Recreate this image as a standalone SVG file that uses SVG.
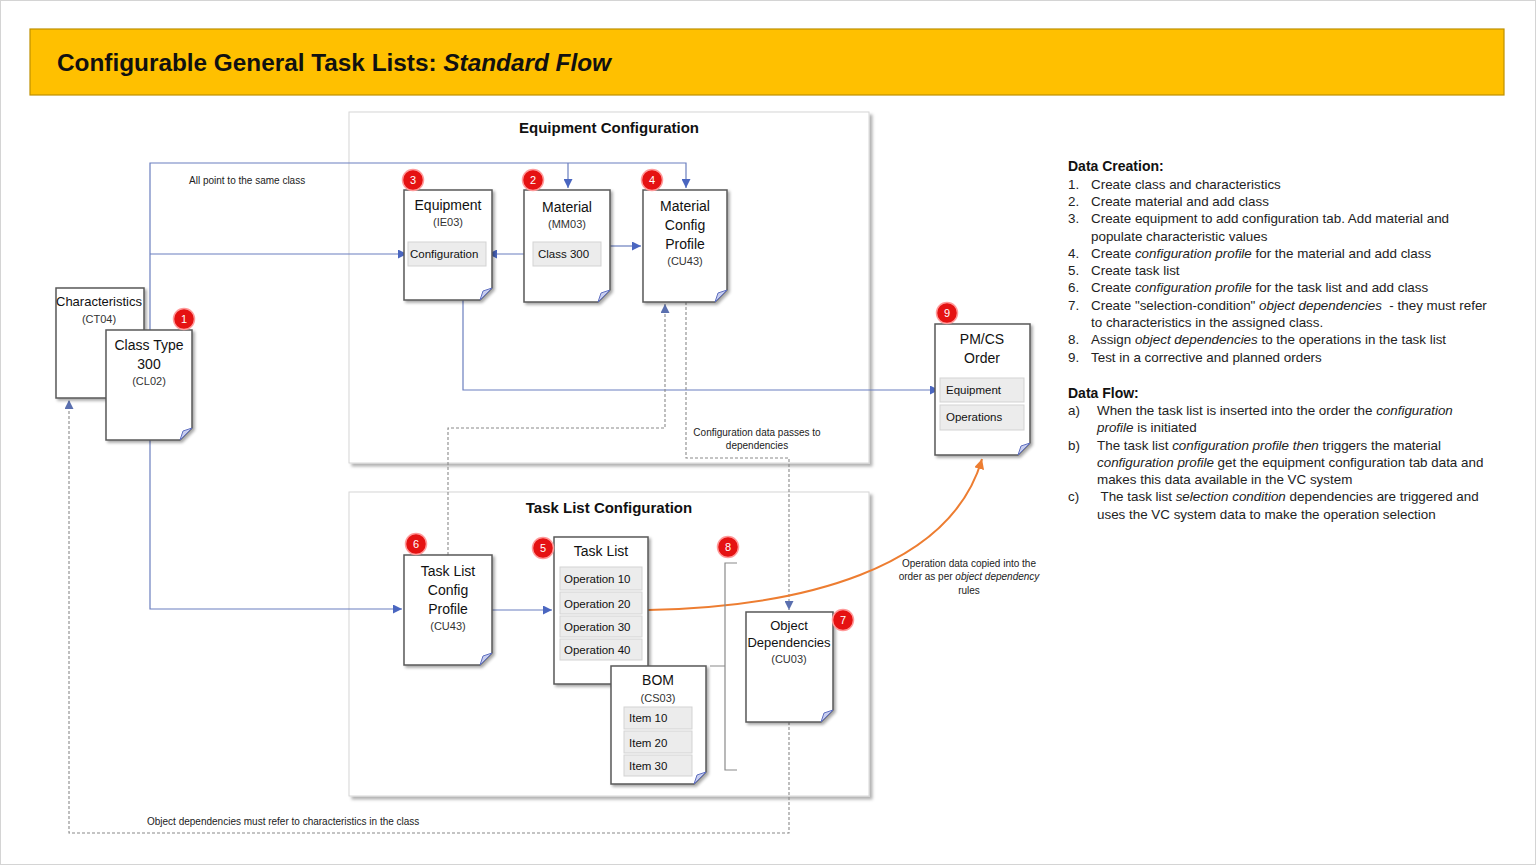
<svg xmlns="http://www.w3.org/2000/svg" width="1536" height="865" viewBox="0 0 1536 865">
<defs>
<filter id="sh" x="-20%" y="-20%" width="140%" height="140%"><feDropShadow dx="2" dy="2" stdDeviation="1.5" flood-color="#000" flood-opacity="0.35"/></filter>
<filter id="psh" x="-5%" y="-5%" width="110%" height="110%"><feDropShadow dx="3" dy="3" stdDeviation="1.5" flood-color="#000" flood-opacity="0.3"/></filter>
<marker id="ab" viewBox="0 0 10 10" refX="10" refY="5" markerWidth="9" markerHeight="9" orient="auto" markerUnits="userSpaceOnUse"><path d="M0,0 L10,5 L0,10 Z" fill="#4A66C0"/></marker>
<marker id="ag" viewBox="0 0 10 10" refX="10" refY="5" markerWidth="9" markerHeight="9" orient="auto" markerUnits="userSpaceOnUse"><path d="M0,0 L10,5 L0,10 Z" fill="#5A6FAF"/></marker>
<marker id="ao" viewBox="0 0 10 10" refX="10" refY="5" markerWidth="10" markerHeight="10" orient="auto" markerUnits="userSpaceOnUse"><path d="M0,0 L10,5 L0,10 Z" fill="#ED7D31"/></marker>
</defs>
<style>
text{font-family:"Liberation Sans",Arial,sans-serif;fill:#111}
.doc{fill:#fff;stroke:#5a5a5a;stroke-width:1.5;filter:url(#sh)}
.fold{fill:#c8ceef;stroke:#5f6fc0;stroke-width:1}
.panel{fill:#fff;stroke:#d6d6d6;stroke-width:1;filter:url(#psh)}
.ptitle{font-size:15px;font-weight:bold;text-anchor:middle}
.lbl{font-size:14px;text-anchor:middle}
.lbl13{font-size:13px;text-anchor:middle}
.code{font-size:11px;text-anchor:middle;fill:#333}
.row{fill:#ececec;stroke:#d3d3d3;stroke-width:1}
.rt{font-size:11.5px}
.badge{fill:#e51212;stroke:#ff9a9a;stroke-width:1.5}
.bt{font-size:11px;fill:#fff;text-anchor:middle}
.ln{fill:none;stroke:#6b7fbf;stroke-width:1.2}
.dash{fill:none;stroke:#8a8a8a;stroke-width:1.1;stroke-dasharray:3,2}
.cl{font-size:10px;fill:#222}
.body{font-size:13.4px;fill:#222}
.hd{font-size:14px;font-weight:bold}
</style>
<rect x="0.5" y="0.5" width="1535" height="864" fill="#fff" stroke="#d4d4d4"/>
<g id="title">
<rect x="30" y="29" width="1474" height="66" fill="#FFC000" stroke="#BF9000" stroke-width="1.2"/>
<text x="57" y="71" font-size="23" font-weight="bold" textLength="554" lengthAdjust="spacingAndGlyphs">Configurable General Task Lists: <tspan font-style="italic">Standard Flow</tspan></text>
</g>
<g id="panel-equipment">
<rect class="panel" x="349" y="112" width="520" height="351"/>
<text class="ptitle" x="609" y="133">Equipment Configuration</text>
</g>
<g id="panel-tasklist">
<rect class="panel" x="349" y="492" width="520" height="304"/>
<text class="ptitle" x="609" y="513">Task List Configuration</text>
</g>
<g id="connectors">
<path class="ln" d="M150,330 V163 H686 V188" marker-end="url(#ab)"/>
<path class="ln" d="M568,163 V188" marker-end="url(#ab)"/>
<path class="ln" d="M150,254 H407" marker-end="url(#ab)"/>
<path class="ln" d="M533,254 H488" marker-end="url(#ab)"/>
<path class="ln" d="M610,246 H641" marker-end="url(#ab)"/>
<path class="ln" d="M463,300 V390 H939" marker-end="url(#ab)"/>
<path class="ln" d="M150,440 V609 H402" marker-end="url(#ab)"/>
<path class="ln" d="M492,610 H552" marker-end="url(#ab)"/>
<path class="dash" d="M448,555 V428 H665 V304" marker-end="url(#ag)"/>
<path class="dash" d="M686,302 V458 H789 V610" marker-end="url(#ag)"/>
<path class="dash" d="M789,722 V833 H69 V400" marker-end="url(#ag)"/>
<path d="M648,610 C800,607 950,570 982,459" fill="none" stroke="#ED7D31" stroke-width="2" marker-end="url(#ao)"/>
<text class="cl" x="189" y="184">All point to the same class</text>
<text class="cl" x="757" y="436" text-anchor="middle">Configuration data passes to</text>
<text class="cl" x="757" y="449" text-anchor="middle">dependencies</text>
<text class="cl" x="969" y="567" text-anchor="middle">Operation data copied into the</text>
<text class="cl" x="969" y="580" text-anchor="middle">order as per <tspan font-style="italic">object dependency</tspan></text>
<text class="cl" x="969" y="594" text-anchor="middle">rules</text>
<text class="cl" x="147" y="825">Object dependencies must refer to characteristics in the class</text>
</g>
<g id="node-characteristics">
<path class="doc" d="M56,288 H144 V386 L132,398 H56 Z"/>
<text class="lbl13" x="99" y="306" textLength="86" lengthAdjust="spacingAndGlyphs">Characteristics</text>
<text class="code" x="99" y="323">(CT04)</text>
</g>
<g id="node-classtype">
<path class="doc" d="M106,330 H192 V428 L180,440 H106 Z"/>
<path class="fold" d="M180,440 L183,431 L192,428 Z"/>
<text class="lbl" x="149" y="350">Class Type</text>
<text class="lbl" x="149" y="369">300</text>
<text class="code" x="149" y="385">(CL02)</text>
<circle class="badge" cx="184" cy="319" r="10.5"/><text class="bt" x="184" y="323">1</text>
</g>
<g id="node-equipment">
<path class="doc" d="M404,190 H492 V288 L480,300 H404 Z"/>
<path class="fold" d="M480,300 L483,291 L492,288 Z"/>
<text class="lbl" x="448" y="210">Equipment</text>
<text class="code" x="448" y="226">(IE03)</text>
<rect class="row" x="408" y="242" width="78" height="24"/>
<text class="rt" x="410" y="258">Configuration</text>
<circle class="badge" cx="413" cy="180" r="10.5"/><text class="bt" x="413" y="184">3</text>
</g>
<g id="node-material">
<path class="doc" d="M524,190 H610 V290 L598,302 H524 Z"/>
<path class="fold" d="M598,302 L601,293 L610,290 Z"/>
<text class="lbl" x="567" y="212">Material</text>
<text class="code" x="567" y="228">(MM03)</text>
<rect class="row" x="533" y="242" width="68" height="24"/>
<text class="rt" x="538" y="258">Class 300</text>
<circle class="badge" cx="533" cy="180" r="10.5"/><text class="bt" x="533" y="184">2</text>
</g>
<g id="node-matconfig">
<path class="doc" d="M643,190 H727 V290 L715,302 H643 Z"/>
<path class="fold" d="M715,302 L718,293 L727,290 Z"/>
<text class="lbl" x="685" y="211">Material</text>
<text class="lbl" x="685" y="230">Config</text>
<text class="lbl" x="685" y="249">Profile</text>
<text class="code" x="685" y="265">(CU43)</text>
<circle class="badge" cx="652" cy="180" r="10.5"/><text class="bt" x="652" y="184">4</text>
</g>
<g id="node-order">
<path class="doc" d="M935,324 H1030 V443 L1018,455 H935 Z"/>
<path class="fold" d="M1018,455 L1021,446 L1030,443 Z"/>
<text class="lbl" x="982" y="344">PM/CS</text>
<text class="lbl" x="982" y="363">Order</text>
<rect class="row" x="940" y="378" width="84" height="24"/>
<text class="rt" x="946" y="394">Equipment</text>
<rect class="row" x="940" y="405" width="84" height="25"/>
<text class="rt" x="946" y="421">Operations</text>
<circle class="badge" cx="947" cy="313" r="10.5"/><text class="bt" x="947" y="317">9</text>
</g>
<g id="node-tlconfig">
<path class="doc" d="M404,555 H492 V653 L480,665 H404 Z"/>
<path class="fold" d="M480,665 L483,656 L492,653 Z"/>
<text class="lbl" x="448" y="576">Task List</text>
<text class="lbl" x="448" y="595">Config</text>
<text class="lbl" x="448" y="614">Profile</text>
<text class="code" x="448" y="630">(CU43)</text>
<circle class="badge" cx="416" cy="544" r="10.5"/><text class="bt" x="416" y="548">6</text>
</g>
<g id="node-tasklist">
<rect class="doc" x="554" y="537" width="94" height="147"/>
<text class="lbl" x="601" y="556">Task List</text>
<rect class="row" x="560" y="567" width="82" height="23"/>
<text class="rt" x="564" y="583">Operation 10</text>
<rect class="row" x="560" y="592" width="82" height="22"/>
<text class="rt" x="564" y="608">Operation 20</text>
<rect class="row" x="560" y="616" width="82" height="21"/>
<text class="rt" x="564" y="631">Operation 30</text>
<rect class="row" x="560" y="639" width="82" height="21"/>
<text class="rt" x="564" y="654">Operation 40</text>
<circle class="badge" cx="543" cy="548" r="10.5"/><text class="bt" x="543" y="552">5</text>
</g>
<g id="node-bom">
<path class="doc" d="M611,666 H706 V772 L694,784 H611 Z"/>
<path class="fold" d="M694,784 L697,775 L706,772 Z"/>
<text class="lbl" x="658" y="685">BOM</text>
<text class="code" x="658" y="702">(CS03)</text>
<rect class="row" x="624" y="707" width="68" height="22"/>
<text class="rt" x="629" y="722">Item 10</text>
<rect class="row" x="624" y="731" width="68" height="22"/>
<text class="rt" x="629" y="747">Item 20</text>
<rect class="row" x="624" y="755" width="68" height="21"/>
<text class="rt" x="629" y="770">Item 30</text>
</g>
<g id="node-objdep">
<path class="doc" d="M746,612 H833 V710 L821,722 H746 Z"/>
<path class="fold" d="M821,722 L824,713 L833,710 Z"/>
<text class="lbl13" x="789" y="630">Object</text>
<text class="lbl13" x="789" y="647">Dependencies</text>
<text class="code" x="789" y="663">(CU03)</text>
<circle class="badge" cx="843" cy="620" r="10.5"/><text class="bt" x="843" y="624">7</text>
</g>
<g id="node-assign">
<path d="M737,563 H725 V770 H737 M725,666 H710" fill="none" stroke="#8a8a8a" stroke-width="1.2"/>
<circle class="badge" cx="728" cy="547" r="10.5"/><text class="bt" x="728" y="551">8</text>
</g>
<g id="notes">
<text class="hd" x="1068" y="171">Data Creation:</text>
<text class="body" x="1068" y="189">1.</text><text class="body" x="1091" y="189">Create class and characteristics</text>
<text class="body" x="1068" y="206">2.</text><text class="body" x="1091" y="206">Create material and add class</text>
<text class="body" x="1068" y="223">3.</text><text class="body" x="1091" y="223">Create equipment to add configuration tab. Add material and</text>
<text class="body" x="1091" y="241">populate characteristic values</text>
<text class="body" x="1068" y="258">4.</text><text class="body" x="1091" y="258">Create <tspan font-style="italic">configuration profile</tspan> for the material and add class</text>
<text class="body" x="1068" y="275">5.</text><text class="body" x="1091" y="275">Create task list</text>
<text class="body" x="1068" y="292">6.</text><text class="body" x="1091" y="292">Create <tspan font-style="italic">configuration profile</tspan> for the task list and add class</text>
<text class="body" x="1068" y="310">7.</text><text class="body" x="1091" y="310" xml:space="preserve">Create "selection-condition" <tspan font-style="italic">object dependencies</tspan>  - they must refer</text>
<text class="body" x="1091" y="327">to characteristics in the assigned class.</text>
<text class="body" x="1068" y="344">8.</text><text class="body" x="1091" y="344">Assign <tspan font-style="italic">object dependencies</tspan> to the operations in the task list</text>
<text class="body" x="1068" y="362">9.</text><text class="body" x="1091" y="362">Test in a corrective and planned orders</text>
<text class="hd" x="1068" y="398">Data Flow:</text>
<text class="body" x="1068" y="415">a)</text><text class="body" x="1097" y="415">When the task list is inserted into the order the <tspan font-style="italic">configuration</tspan></text>
<text class="body" x="1097" y="432"><tspan font-style="italic">profile</tspan> is initiated</text>
<text class="body" x="1068" y="450">b)</text><text class="body" x="1097" y="450">The task list <tspan font-style="italic">configuration profile then</tspan> triggers the material</text>
<text class="body" x="1097" y="467"><tspan font-style="italic">configuration profile</tspan> get the equipment configuration tab data and</text>
<text class="body" x="1097" y="484">makes this data available in the VC system</text>
<text class="body" x="1068" y="501">c)</text><text class="body" x="1097" y="501" xml:space="preserve"> The task list <tspan font-style="italic">selection condition</tspan> dependencies are triggered and</text>
<text class="body" x="1097" y="519">uses the VC system data to make the operation selection</text>
</g>
</svg>
